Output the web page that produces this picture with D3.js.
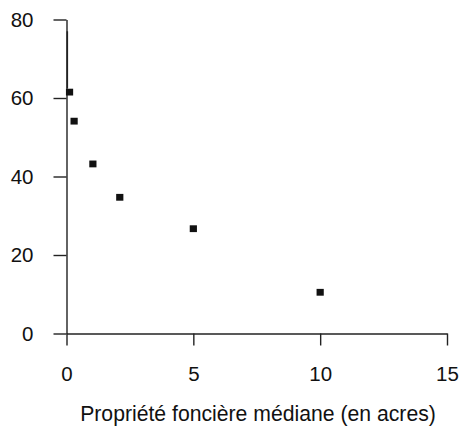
<!DOCTYPE html>
<html><head><meta charset="utf-8">
<script src="https://cdn.jsdelivr.net/npm/d3@7/dist/d3.min.js"></script>
<style>body{margin:0;background:#fff}svg{display:block}text{font-family:"Liberation Sans",Arial,sans-serif}</style>
</head><body>
<script>
const xValues = [0.12, 0.3, 1.04, 2.1, 5.0, 10.0];
const yValues = [61.5, 54.1, 43.2, 34.7, 26.7, 10.5];
const spikeX = [0.0, 0.0];
const spikeY = [77, 62.5];
const xTicks = [0, 5, 10, 15];
const yTicks = [0, 20, 40, 60, 80];
const xLabel = "Propriété foncière médiane (en acres)";

const W = 463, H = 431;
const FS = "20.5px";
const svg = d3.select("body").append("svg").attr("width", W).attr("height", H);
const x = d3.scaleLinear().domain([0, 15]).range([66.5, 447]);
const y = d3.scaleLinear().domain([0, 80]).range([333.5, 19.5]);

const xa = svg.append("g").attr("transform", `translate(0,${y(0)})`)
  .call(d3.axisBottom(x).tickValues(xTicks).tickSize(12).tickSizeOuter(0).tickPadding(21));
const ya = svg.append("g").attr("transform", `translate(${x(0)},0)`)
  .call(d3.axisLeft(y).tickValues(yTicks).tickSize(13).tickSizeOuter(0).tickPadding(20));
[xa, ya].forEach(g => {
  g.selectAll("path,line").attr("stroke", "#222").attr("stroke-width", 1.4);
  g.selectAll("text").attr("fill", "#111").style("font-size", FS)
   .style("font-family", '"Liberation Sans", Arial, sans-serif');
});
xa.selectAll("text").attr("dy", "0.71em");

svg.append("line")
  .attr("x1", x(spikeX[0]) + 0.8).attr("x2", x(spikeX[1]) + 0.8)
  .attr("y1", y(spikeY[0])).attr("y2", y(spikeY[1]))
  .attr("stroke", "#222").attr("stroke-width", 1.6);

const pts = xValues.map((v, i) => [v, yValues[i]]);
svg.append("g").selectAll("rect").data(pts).join("rect")
  .attr("x", d => x(d[0]) - 3.6).attr("y", d => y(d[1]) - 3.4)
  .attr("width", 7.2).attr("height", 6.8).attr("fill", "#111");

svg.append("text").attr("x", 258).attr("y", 421).attr("text-anchor", "middle")
  .style("font-size", "21.2px").attr("fill", "#111").text(xLabel);
</script>
</body></html>
